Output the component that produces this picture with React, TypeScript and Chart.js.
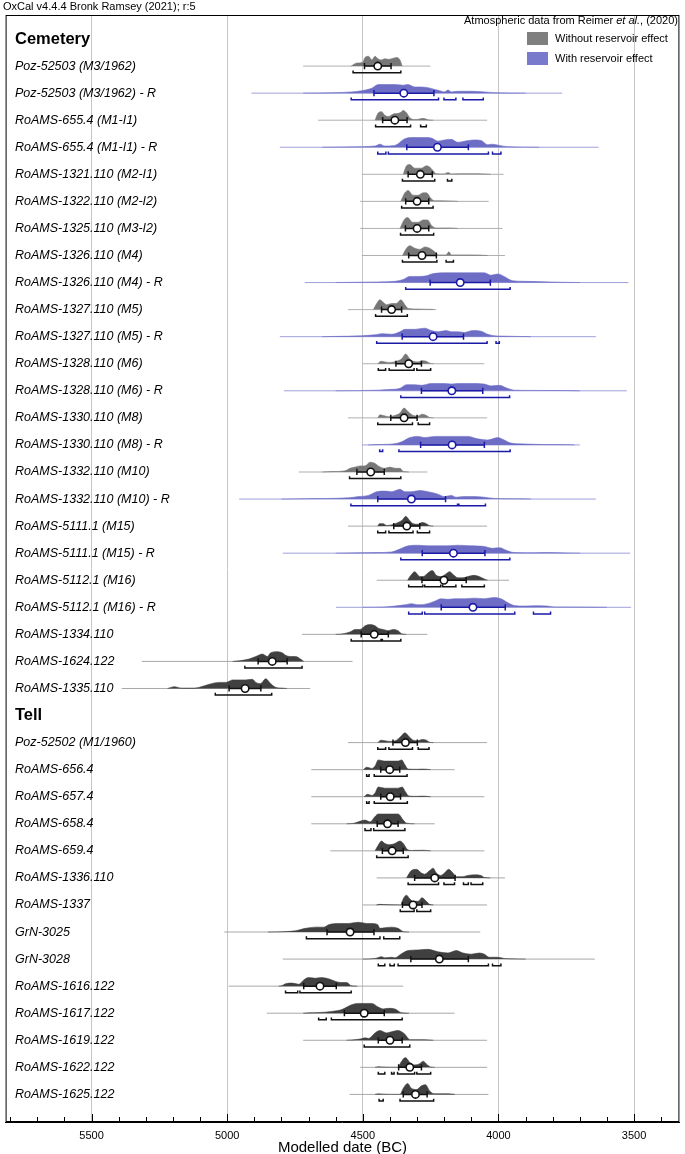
import React, { useEffect, useRef } from 'react';
import { Chart, registerables } from 'chart.js';
Chart.register(...registerables);

const FONT = '"Liberation Sans", Arial, Helvetica, sans-serif';

const rowLabels = [
  'Cemetery',
  'Poz-52503 (M3/1962)', 'Poz-52503 (M3/1962) - R',
  'RoAMS-655.4 (M1-I1)', 'RoAMS-655.4 (M1-I1) - R',
  'RoAMS-1321.110 (M2-I1)', 'RoAMS-1322.110 (M2-I2)', 'RoAMS-1325.110 (M3-I2)',
  'RoAMS-1326.110 (M4)', 'RoAMS-1326.110 (M4) - R',
  'RoAMS-1327.110 (M5)', 'RoAMS-1327.110 (M5) - R',
  'RoAMS-1328.110 (M6)', 'RoAMS-1328.110 (M6) - R',
  'RoAMS-1330.110 (M8)', 'RoAMS-1330.110 (M8) - R',
  'RoAMS-1332.110 (M10)', 'RoAMS-1332.110 (M10) - R',
  'RoAMS-5111.1 (M15)', 'RoAMS-5111.1 (M15) - R',
  'RoAMS-5112.1 (M16)', 'RoAMS-5112.1 (M16) - R',
  'RoAMS-1334.110', 'RoAMS-1624.122', 'RoAMS-1335.110',
  'Tell',
  'Poz-52502 (M1/1960)', 'RoAMS-656.4', 'RoAMS-657.4', 'RoAMS-658.4', 'RoAMS-659.4',
  'RoAMS-1336.110', 'RoAMS-1337', 'GrN-3025', 'GrN-3028',
  'RoAMS-1616.122', 'RoAMS-1617.122', 'RoAMS-1619.122', 'RoAMS-1622.122', 'RoAMS-1625.122',
];

const rowKinds = [
  'head',
  'gray', 'blue', 'gray', 'blue', 'gray', 'gray', 'gray', 'gray', 'blue',
  'gray', 'blue', 'gray', 'blue', 'gray', 'blue', 'gray', 'blue',
  'dark', 'blue', 'dark', 'blue', 'dark', 'dark', 'dark',
  'head',
  'dark', 'dark', 'dark', 'dark', 'dark', 'dark', 'dark', 'dark', 'dark',
  'dark', 'dark', 'dark', 'dark', 'dark',
];

// thin range line for each row (years BC)
const rangeLines: ([number, number] | null)[] = [
  null,
  [4720, 4251], [4911, 3765], [4665, 4042], [4806, 3631], [4504, 3981], [4510, 4036], [4510, 3985],
  [4504, 3976], [4714, 3521], [4555, 4241], [4806, 3641], [4501, 4052], [4791, 3527], [4555, 4042],
  [4504, 3700], [4736, 4262], [4956, 3641], [4555, 4042], [4795, 3515], [4449, 3961], [4599, 3511],
  [4724, 4262], [5315, 4538], [5389, 4694],
  null,
  [4555, 4042], [4690, 4162], [4690, 4052], [4690, 4235], [4620, 4052], [4449, 3976], [4501, 4042],
  [5011, 4067], [4795, 3645], [4995, 4351], [4854, 4162], [4720, 4042], [4510, 4042], [4549, 4037],
];

// mean (years BC)
const means: (number | null)[] = [
  null,
  4445, 4349, 4382, 4225, 4288, 4300, 4300, 4282, 4141, 4394, 4241, 4331, 4172, 4348, 4171, 4471, 4321,
  4338, 4166, 4201, 4094, 4458, 4834, 4934,
  null,
  4343, 4401, 4399, 4409, 4392, 4235, 4315, 4547, 4218, 4658, 4495, 4400, 4327, 4306,
];

// 1-sigma span around the mean (years BC)
const sigmas: ([number, number] | null)[] = [
  null,
  [4494, 4396], [4459, 4238], [4427, 4337], [4338, 4111], [4333, 4244], [4342, 4257], [4343, 4257],
  [4331, 4229], [4252, 4030], [4431, 4357], [4355, 4129], [4378, 4284], [4284, 4058], [4397, 4300],
  [4287, 4052], [4522, 4421], [4445, 4195], [4386, 4290], [4281, 4050], [4282, 4119], [4211, 3975],
  [4506, 4406], [4886, 4779], [4993, 4876],
  null,
  [4389, 4299], [4434, 4364], [4434, 4361], [4447, 4370], [4428, 4351], [4309, 4160], [4354, 4282],
  [4632, 4459], [4323, 4111], [4718, 4598], [4568, 4421], [4443, 4355], [4368, 4284], [4351, 4263],
];

// highest posterior density ranges (years BC)
const brackets: ([number, number][] | null)[] = [
  null,
  [[4536, 4360]],
  [[4543, 4221], [4201, 4157], [4131, 4056]],
  [[4453, 4324], [4287, 4266]],
  [[4445, 4415], [4406, 4037], [4022, 3991]],
  [[4354, 4235], [4188, 4172]],
  [[4357, 4241]],
  [[4361, 4239]],
  [[4354, 4227], [4193, 4166]],
  [[4342, 3957]],
  [[4453, 4336]],
  [[4449, 4042], [4009, 3997]],
  [[4443, 4416], [4403, 4311], [4301, 4250]],
  [[4360, 3959]],
  [[4445, 4317], [4296, 4254]],
  [[4438, 4427], [4367, 3957]],
  [[4549, 4360]],
  [[4544, 4151], [4146, 4048]],
  [[4445, 4416], [4404, 4315], [4299, 4254]],
  [[4360, 3958]],
  [[4331, 4279], [4272, 4213], [4206, 4157], [4135, 4052]],
  [[4331, 4281], [4272, 3940], [3871, 3808]],
  [[4543, 4433], [4428, 4360]],
  [[4935, 4724]],
  [[5044, 4836]],
  null,
  [[4445, 4416], [4404, 4317], [4296, 4256]],
  [[4486, 4477], [4458, 4337]],
  [[4486, 4477], [4458, 4336]],
  [[4492, 4470], [4460, 4345]],
  [[4449, 4333]],
  [[4333, 4221], [4201, 4162], [4129, 4111], [4101, 4058]],
  [[4362, 4311], [4301, 4250]],
  [[4708, 4437], [4423, 4364]],
  [[4443, 4419], [4400, 4384], [4370, 4037], [4022, 3991]],
  [[4785, 4740], [4732, 4543]],
  [[4663, 4635], [4616, 4355]],
  [[4495, 4327]],
  [[4443, 4419], [4394, 4385], [4372, 4309], [4301, 4250]],
  [[4440, 4425], [4363, 4239]],
];

// probability distributions: [year BC, relative density]
const shapes: ([number, number][] | null)[] = [
  null,
  [[4543,0],[4522,2.5],[4501,3],[4492,7],[4479,8],[4467,5],[4455,8],[4445,6],[4431,5],[4419,6],[4406,5.5],[4394,6],[4376,7],[4363,5],[4355,0]],
  [[4720,0],[4600,0.4],[4541,1],[4504,2],[4467,4],[4443,7],[4406,7],[4382,7],[4351,6.5],[4333,7],[4309,5],[4284,5],[4260,4.5],[4235,3],[4217,2],[4199,1],[4186,2.5],[4174,1],[4150,1.5],[4101,1.5],[4052,1],[4015,0.3],[3900,0]],
  [[4455,0],[4443,6],[4431,7],[4419,4],[4406,3],[4388,5],[4363,6],[4351,8],[4339,6],[4327,2],[4309,0.5],[4290,1],[4278,1.5],[4260,0.3],[4240,0]],
  [[4650,0],[4500,0.5],[4455,1],[4437,2.5],[4419,1],[4382,1.5],[4345,7],[4321,8],[4272,8],[4247,7.5],[4223,5],[4199,6],[4174,6.5],[4150,4],[4125,5],[4089,6],[4064,5.5],[4040,2],[4022,2.5],[3997,1.5],[3967,0.5],[3850,0]],
  [[4351,0],[4339,7],[4327,8],[4309,5],[4284,5],[4266,7],[4254,6],[4241,3],[4229,0.5],[4200,0.3],[4186,1.5],[4174,0.3],[4125,0.5],[4077,0.5],[4028,0]],
  [[4360,0],[4345,7],[4333,9],[4315,5],[4296,5],[4278,7],[4266,7],[4247,2],[4235,0.5],[4186,0.4],[4150,0]],
  [[4363,0],[4348,7],[4335,9],[4317,5],[4296,5],[4278,7],[4262,7],[4245,2],[4229,0.3],[4186,0.4],[4150,0]],
  [[4354,0],[4339,6],[4327,8],[4309,6],[4290,5],[4272,7],[4254,6],[4235,3],[4223,0.5],[4193,0.5],[4183,3],[4174,0.5],[4113,0.5],[4077,0.4],[4040,0]],
  [[4600,0],[4443,0.5],[4382,1],[4351,2.5],[4327,5],[4296,5],[4266,5.5],[4247,7],[4199,8],[4150,8],[4101,8],[4052,8],[4028,6],[4003,7],[3979,5],[3948,1.5],[3906,1],[3857,0.8],[3808,0.5],[3759,0.2],[3700,0]],
  [[4461,0],[4449,5],[4437,8],[4425,6],[4412,4],[4394,5],[4376,5],[4360,8],[4345,4],[4333,1],[4296,0.5],[4247,0.2],[4230,0]],
  [[4650,0],[4455,1.5],[4431,2.5],[4394,2],[4363,4],[4345,6],[4309,6],[4272,7],[4247,5],[4223,4],[4193,5],[4174,4],[4150,4],[4125,3.5],[4095,5],[4064,4.5],[4040,2],[4016,0.8],[3991,0.5],[3930,0.2],[3880,0]],
  [[4445,0],[4433,2],[4419,1.5],[4400,1],[4376,2],[4357,4],[4342,8],[4327,4],[4315,2],[4296,1.5],[4282,2.5],[4266,2],[4254,0.5],[4240,0]],
  [[4600,0],[4443,0.5],[4406,1],[4363,2],[4339,5],[4309,5],[4284,4.5],[4247,6],[4199,6],[4174,5.5],[4150,6],[4101,6],[4052,5.5],[4028,4],[3997,4.5],[3967,2],[3942,0.5],[3869,0.3],[3747,0.2],[3700,0]],
  [[4445,0],[4437,2.5],[4425,2],[4406,1],[4382,2],[4363,4],[4348,8],[4333,5],[4315,2],[4296,1.5],[4282,3],[4266,2],[4254,0.3],[4240,0]],
  [[4480,0],[4443,0.3],[4382,1],[4357,2.5],[4327,6],[4296,7],[4272,6],[4235,7],[4199,7],[4150,7],[4113,7],[4077,5],[4040,4],[4003,6],[3979,4],[3954,1.5],[3906,0.8],[3832,0.3],[3747,0.2],[3720,0]],
  [[4650,0],[4614,0.3],[4565,1],[4547,3],[4528,4],[4510,5],[4492,5],[4473,8],[4455,7],[4443,5],[4419,3],[4400,4],[4382,3],[4363,3],[4351,0.3],[4330,0]],
  [[4800,0],[4712,0.3],[4553,1],[4516,2],[4479,3],[4449,6],[4419,6.5],[4394,6],[4363,8],[4345,6],[4321,6],[4290,7],[4260,6],[4223,4],[4199,2],[4174,3],[4156,1.5],[4125,2],[4089,2],[4052,1.5],[4016,0.5],[3930,0.2],[3880,0]],
  [[4445,0],[4439,2],[4425,2],[4412,0.5],[4394,1],[4370,3],[4354,5],[4342,8],[4329,5],[4315,2],[4296,1.5],[4282,3],[4266,2],[4254,0.3],[4240,0]],
  [[4600,0],[4443,0.5],[4394,1],[4357,4],[4333,6],[4296,6.5],[4260,6],[4223,6],[4186,6],[4150,6.5],[4101,6],[4052,5.5],[4022,4],[3997,4.5],[3967,2],[3942,0.5],[3869,0.3],[3808,0.5],[3747,0.2],[3700,0]],
  [[4335,0],[4323,4],[4309,7],[4290,3],[4278,3],[4260,6],[4244,8],[4229,4],[4211,3],[4195,5],[4180,7],[4164,4],[4150,2],[4131,2],[4113,3],[4089,4],[4071,3],[4052,1],[4040,0]],
  [[4500,0],[4419,0.3],[4345,2],[4321,3],[4296,2],[4260,3],[4235,5],[4211,7],[4186,6.5],[4162,7],[4125,7],[4089,7.5],[4052,7],[4016,8],[3991,7],[3967,4],[3942,1.5],[3906,1],[3869,1.3],[3820,1],[3796,0.3],[3686,0.2],[3600,0]],
  [[4600,0],[4577,0.3],[4547,2],[4528,4],[4510,4],[4492,7],[4473,8],[4455,7],[4443,5],[4425,4],[4406,3],[4388,4],[4370,3],[4357,0.5],[4340,0]],
  [[4980,0],[4956,0.5],[4919,2],[4895,4],[4870,6],[4852,4],[4840,7],[4815,8],[4797,7],[4785,5],[4767,4],[4748,4],[4730,2],[4718,0]],
  [[5220,0],[5194,1.5],[5170,0.3],[5120,0.3],[5102,1],[5066,3.5],[5029,5],[5005,5],[4980,7],[4956,7],[4932,7],[4907,7.5],[4895,5],[4877,4],[4858,8],[4840,4],[4822,1],[4797,0.3],[4780,0]],
  null,
  [[4445,0],[4433,2],[4419,1.5],[4400,1],[4376,2],[4360,5],[4345,8],[4330,5],[4315,2],[4296,1.5],[4282,2.5],[4266,2],[4254,0.3],[4240,0]],
  [[4498,0],[4486,2],[4467,1],[4455,3],[4443,8],[4419,7],[4394,7],[4370,7],[4357,8],[4345,4],[4333,0.5],[4300,0.3],[4278,0.5],[4250,0]],
  [[4495,0],[4483,2],[4467,1],[4455,3],[4443,8],[4419,7],[4394,7],[4370,7],[4355,8],[4343,4],[4330,0.5],[4300,0.3],[4278,0.5],[4250,0]],
  [[4560,0],[4535,0.3],[4492,3],[4473,1.5],[4455,6],[4443,8],[4419,8],[4394,8],[4370,8],[4351,3],[4339,0.5],[4310,0]],
  [[4455,0],[4445,4],[4431,8],[4419,6],[4400,5],[4382,6],[4363,8],[4351,6],[4335,1],[4321,0.3],[4278,0.5],[4250,0]],
  [[4339,0],[4321,6],[4302,7],[4284,4],[4272,3],[4254,6],[4241,8],[4229,4],[4213,2],[4199,4],[4184,7],[4168,4],[4156,1],[4131,1],[4113,2],[4089,2.5],[4064,2],[4052,0.3],[4030,0]],
  [[4450,0],[4437,0.5],[4425,0.3],[4360,0],[4351,5],[4339,8],[4327,5],[4315,3],[4296,3],[4282,6],[4266,3],[4254,0.5],[4240,0]],
  [[4850,0],[4791,0.3],[4748,1],[4712,3],[4675,4],[4644,4],[4626,6],[4589,7],[4553,7],[4516,8],[4486,7],[4467,7],[4445,6],[4437,3],[4419,3.5],[4394,4],[4370,3],[4351,0.3],[4330,0]],
  [[4500,0],[4455,0.5],[4431,2],[4419,1],[4394,1.5],[4382,1],[4360,4],[4333,7],[4296,7.5],[4260,8],[4223,6],[4186,5],[4156,7],[4131,5],[4101,4],[4071,5],[4052,4],[4034,1.5],[4003,1.5],[3979,0.5],[3954,0.2],[3900,0]],
  [[4810,0],[4797,0.5],[4785,2],[4760,2.5],[4736,1.5],[4718,5],[4700,7],[4675,6.5],[4651,7],[4626,6],[4602,4],[4583,3],[4559,3],[4543,0.3],[4520,0]],
  [[4720,0],[4700,0.3],[4663,0.5],[4614,1.5],[4577,3],[4559,5],[4541,7],[4516,8],[4492,8],[4467,8],[4443,5],[4425,3.5],[4406,4],[4382,3.5],[4357,0.3],[4330,0]],
  [[4560,0],[4541,0.3],[4510,1],[4492,2],[4479,1.5],[4455,6],[4437,8],[4412,6],[4394,7],[4370,8],[4345,5],[4327,0.5],[4272,0.5],[4240,0]],
  [[4455,0],[4443,0.5],[4431,0.3],[4370,0],[4360,4],[4343,8],[4327,4],[4309,2],[4290,3],[4278,5],[4262,2],[4250,0.3],[4235,0]],
  [[4455,0],[4443,0.5],[4425,0.2],[4363,0],[4351,5],[4335,9],[4321,5],[4302,4],[4284,7],[4269,8],[4254,3],[4238,0.5],[4186,0.5],[4160,0]],
];

const majorTicks = [5500, 5000, 4500, 4000, 3500];
const minorTicks = [
  5800, 5700, 5600, 5400, 5300, 5200, 5100, 4900, 4800, 4700, 4600, 4400, 4300, 4200, 4100,
  3900, 3800, 3700, 3600, 3400,
];
const axisTitle = 'Modelled date (BC)';

const X_MIN = 3333;
const X_MAX = 5817;
const Y_MIN = -0.887;
const Y_MAX = 40.02;
const DENS = 1.22 / 27.06; // density unit in row units
const BR_OFF = 0.245;
const BR_TICK = 0.085;
const ERR_TICK = 0.115;

const palette: Record<string, { fill: string; range: string; err: string }> = {
  gray: { fill: '#777777', range: '#b0b0b0', err: '#111111' },
  dark: { fill: '#404040', range: '#a8a8a8', err: '#111111' },
  blue: { fill: '#6d6dc5', range: '#a0a0dc', err: '#1a1aa6' },
};

function buildDatasets() {
  const ds: any[] = [];
  rowLabels.forEach((_, i) => {
    const kind = rowKinds[i];
    if (kind === 'head') return;
    const col = palette[kind];
    const r = rangeLines[i]!;
    ds.push({
      data: [{ x: r[0], y: i }, { x: r[1], y: i }],
      borderColor: col.range, borderWidth: 1, pointRadius: 0, fill: false, order: 5,
    });
    ds.push({
      data: shapes[i]!.map(([x, d]) => ({ x, y: i - d * DENS })),
      borderColor: col.fill, backgroundColor: col.fill, borderWidth: 0.6, pointRadius: 0,
      fill: { value: i }, cubicInterpolationMode: 'monotone', order: 4,
    });
    const bp: any[] = [];
    brackets[i]!.forEach(([a, b]) => {
      bp.push({ x: a, y: i + BR_OFF - BR_TICK }, { x: a, y: i + BR_OFF }, { x: b, y: i + BR_OFF },
        { x: b, y: i + BR_OFF - BR_TICK }, { x: b, y: null });
    });
    ds.push({
      data: bp, borderColor: col.err, borderWidth: 1.5, pointRadius: 0, fill: false, spanGaps: false, order: 3,
    });
    const [sa, sb] = sigmas[i]!;
    ds.push({
      data: [
        { x: sa, y: i - ERR_TICK }, { x: sa, y: i + ERR_TICK }, { x: sa, y: i }, { x: sb, y: i },
        { x: sb, y: i - ERR_TICK }, { x: sb, y: i + ERR_TICK },
      ],
      borderColor: col.err, borderWidth: 1.5, pointRadius: 0, fill: false, order: 2,
    });
    ds.push({
      data: [{ x: means[i]!, y: i }], showLine: false, pointRadius: 3.7,
      pointBackgroundColor: '#ffffff', pointBorderColor: col.err, pointBorderWidth: 1.6, order: 1,
    });
  });
  return ds;
}

const decorPlugin = {
  id: 'decor',
  afterDraw(chart: any) {
    const { ctx, chartArea, scales } = chart;
    const { left, top, right, bottom } = chartArea;
    const x = scales.x;
    const y = scales.y;
    ctx.save();
    ctx.strokeStyle = '#000';
    ctx.lineWidth = 1;
    ctx.strokeRect(left + 0.5, top + 0.5, right - left - 1, bottom - top - 1);
    const all = [...majorTicks.map((v) => [v, 8]), ...minorTicks.map((v) => [v, 5])];
    all.forEach(([v, len]) => {
      const px = Math.round(x.getPixelForValue(v)) + 0.5;
      ctx.beginPath();
      ctx.moveTo(px, bottom);
      ctx.lineTo(px, bottom - len);
      ctx.stroke();
    });
    ctx.fillStyle = '#000';
    ctx.textBaseline = 'middle';
    ctx.textAlign = 'left';
    rowLabels.forEach((lab, i) => {
      const py = y.getPixelForValue(i);
      if (rowKinds[i] === 'head') {
        ctx.font = `bold 16.5px ${FONT}`;
        ctx.fillText(lab, 15, py);
      } else {
        ctx.font = `italic 12.5px ${FONT}`;
        ctx.fillText(lab, 15, py);
      }
    });
    // axis title
    ctx.textAlign = 'center';
    ctx.font = `15px ${FONT}`;
    ctx.fillText(axisTitle, (left + right) / 2, 1148);
    ctx.textAlign = 'left';
    // header
    ctx.font = `11px ${FONT}`;
    ctx.fillText('OxCal v4.4.4 Bronk Ramsey (2021); r:5', 3, 7);
    const p1 = 'Atmospheric data from Reimer ';
    const p2 = 'et al.';
    const p3 = ', (2020)';
    ctx.font = `11px ${FONT}`;
    const w1 = ctx.measureText(p1).width;
    const w3 = ctx.measureText(p3).width;
    ctx.font = `italic 11px ${FONT}`;
    const w2 = ctx.measureText(p2).width;
    const sx = 678 - (w1 + w2 + w3);
    ctx.font = `11px ${FONT}`;
    ctx.fillText(p1, sx, 21);
    ctx.font = `italic 11px ${FONT}`;
    ctx.fillText(p2, sx + w1, 21);
    ctx.font = `11px ${FONT}`;
    ctx.fillText(p3, sx + w1 + w2, 21);
    // legend
    ctx.fillStyle = '#7f7f7f';
    ctx.fillRect(527, 32, 21, 13);
    ctx.fillStyle = '#7a7acc';
    ctx.fillRect(527, 52, 21, 13);
    ctx.fillStyle = '#000';
    ctx.fillText('Without reservoir effect', 555, 38.5);
    ctx.fillText('With reservoir effect', 555, 58.5);
    ctx.restore();
  },
};

export default function App() {
  const ref = useRef<HTMLCanvasElement | null>(null);
  useEffect(() => {
    if (!ref.current) return;
    const chart = new Chart(ref.current, {
      type: 'line',
      data: { datasets: buildDatasets() },
      options: {
        responsive: false,
        animation: false,
        events: [],
        layout: { padding: { left: 5, right: 2, top: 15, bottom: 8 } },
        plugins: { legend: { display: false }, tooltip: { enabled: false }, title: { display: false } },
        scales: {
          x: {
            type: 'linear',
            reverse: true,
            min: X_MIN,
            max: X_MAX,
            afterBuildTicks: (s: any) => {
              s.ticks = [...majorTicks, ...minorTicks].sort((a, b) => a - b).map((v) => ({ value: v }));
            },
            afterFit: (s: any) => {
              s.height = 24;
            },
            ticks: {
              autoSkip: false,
              maxRotation: 0,
              padding: 8,
              color: '#000',
              font: { family: FONT, size: 11, lineHeight: 1 },
              callback: (v: any) => (majorTicks.includes(Number(v)) ? String(v) : ''),
            },
            grid: {
              drawTicks: false,
              lineWidth: 1,
              color: (c: any) => (c.tick && majorTicks.includes(c.tick.value) ? '#c6c6c6' : 'rgba(0,0,0,0)'),
            },
            border: { display: true, color: '#000', width: 1 },
            title: { display: false },
          },
          y: { type: 'linear', display: false, reverse: true, min: Y_MIN, max: Y_MAX },
        },
      } as any,
      plugins: [decorPlugin],
    });
    return () => chart.destroy();
  }, []);
  return (
    <div style={{ position: 'absolute', left: 0, top: 0, width: 685, height: 1154 }}>
      <canvas ref={ref} width={685} height={1154} />
    </div>
  );
}
